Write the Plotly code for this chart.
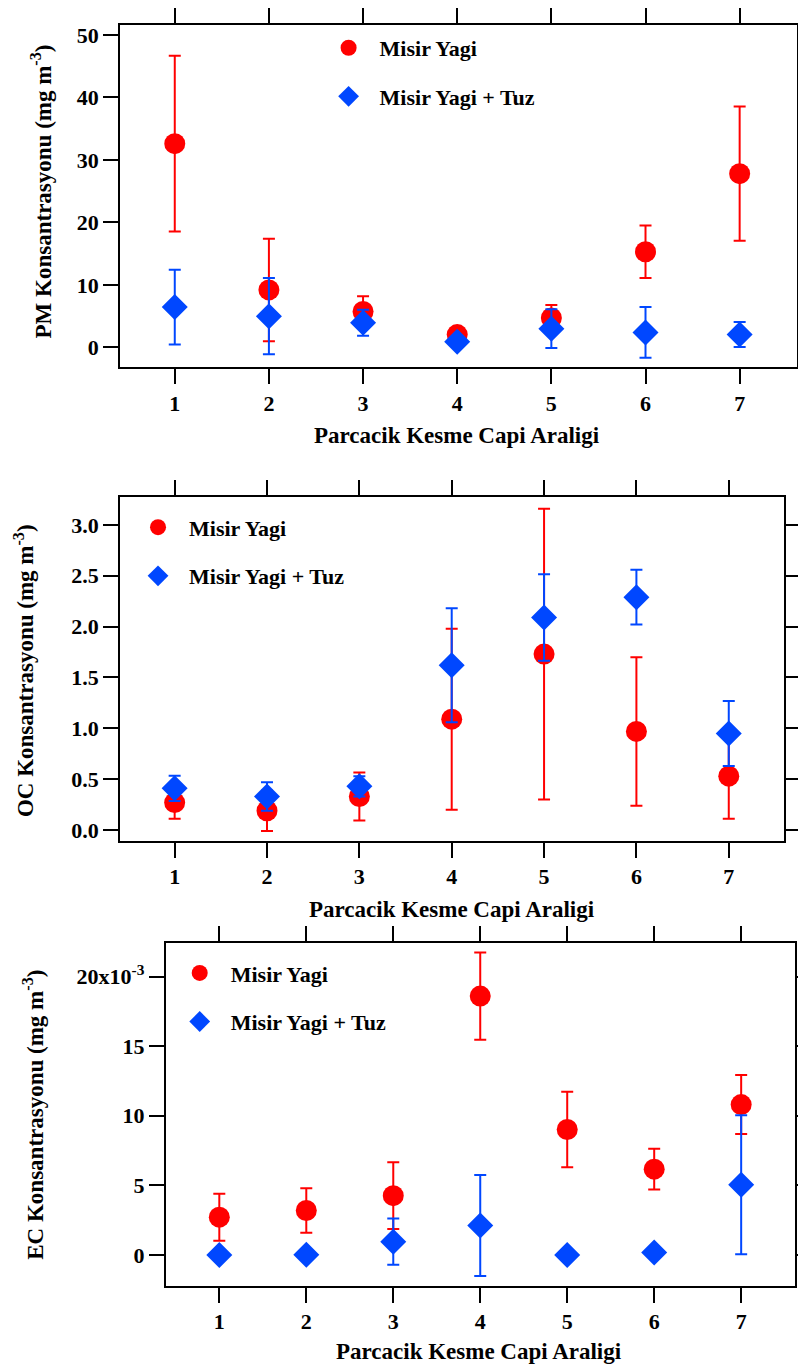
import plotly.graph_objects as go

W, H = 806, 1371
x_cats = [1, 2, 3, 4, 5, 6, 7]
x_ticktext = ["1", "2", "3", "4", "5", "6", "7"]
name_red = "Misir Yagi"
name_blue = "Misir Yagi + Tuz"
x_title = "Parcacik Kesme Capi Araligi"

# Panel 1: PM
pm_red = [32.6, 9.2, 5.75, 2.05, 4.7, 15.3, 27.8]
pm_red_err = [14.05, 8.2, 2.43, 0.5, 2.1, 4.2, 10.75]
pm_blue = [6.45, 5.0, 3.96, 0.9, 3.0, 2.4, 2.06]
pm_blue_err = [5.98, 6.1, 2.08, 0.4, 3.1, 4.05, 2.0]
pm_yticks = [0, 10, 20, 30, 40, 50]
pm_yticktext = ["0", "10", "20", "30", "40", "50"]

# Panel 2: OC
oc_red = [0.27, 0.19, 0.33, 1.09, 1.73, 0.97, 0.53]
oc_red_err = [0.16, 0.20, 0.235, 0.89, 1.43, 0.73, 0.42]
oc_blue = [0.41, 0.33, 0.43, 1.62, 2.09, 2.29, 0.95]
oc_blue_err = [0.125, 0.14, 0.1, 0.56, 0.425, 0.27, 0.32]
oc_yticks = [0.0, 0.5, 1.0, 1.5, 2.0, 2.5, 3.0]
oc_yticktext = ["0.0", "0.5", "1.0", "1.5", "2.0", "2.5", "3.0"]

# Panel 3: EC (values in units of 10^-3 mg m^-3)
ec_red = [2.71, 3.19, 4.26, 18.6, 9.01, 6.16, 10.8]
ec_red_err = [1.69, 1.6, 2.4, 3.13, 2.71, 1.46, 2.12]
ec_blue = [0.0, 0.02, 0.95, 2.12, 0.0, 0.17, 5.04]
ec_blue_err = [0.0, 0.0, 1.66, 3.63, 0.0, 0.0, 5.0]
ec_yticks = [0, 5, 10, 15, 20]
ec_yticktext = ["0", "5", "10", "15", "20x10<sup>-3</sup>"]

RED = "#ff0000"
BLUE = "#0047ff"
FONT = "Liberation Serif"
OFF = 8  # page body margin


def Y(px):
    return 1 - (px - OFF) / H


def X(px):
    return (px - OFF) / W


panels = [
    dict(key="", data=(pm_red, pm_red_err, pm_blue, pm_blue_err),
         xdom=[X(121), X(803)], ydom=[Y(362), Y(17)],
         xr=[0.42, 7.61], yr=[-3.2, 51.6], yt=(pm_yticks, pm_yticktext),
         ytitle="PM Konsantrasyonu (mg m<sup>-3</sup>)",
         ytpos=(42, 185), xtpos=(460, 431), leg=(345, 40)),
    dict(key="2", data=(oc_red, oc_red_err, oc_blue, oc_blue_err),
         xdom=[X(121), X(790)], ydom=[Y(839), Y(493)],
         xr=[0.41, 7.6], yr=[-0.107, 3.27], yt=(oc_yticks, oc_yticktext),
         ytitle="OC Konsantrasyonu (mg m<sup>-3</sup>)",
         ytpos=(24, 667), xtpos=(455, 908), leg=(153, 523)),
    dict(key="3", data=(ec_red, ec_red_err, ec_blue, ec_blue_err),
         xdom=[X(167), X(801)], ydom=[Y(1287), Y(942)],
         xr=[0.385, 7.62], yr=[-2.21, 22.4], yt=(ec_yticks, ec_yticktext),
         ytitle="EC Konsantrasyonu (mg m<sup>-3</sup>)",
         ytpos=(34, 1115), xtpos=(483, 1353), leg=(195, 972)),
]

fig = go.Figure()
annotations = []
layout = dict(
    width=W, height=H, margin=dict(l=0, r=0, t=0, b=0),
    paper_bgcolor="white", plot_bgcolor="white",
    font=dict(family=FONT, size=22, color="black", weight="bold"),
)

tickfont = dict(family=FONT, size=22, color="black", weight="bold")
titlefont = dict(family=FONT, size=23, color="black", weight="bold")

for p in panels:
    k = p["key"]
    red, rerr, blue, berr = p["data"]
    legname = "legend" + k
    xa = "x" + k
    ya = "y" + k
    fig.add_trace(go.Scatter(
        x=x_cats, y=red, mode="markers", name="\u2002" + name_red,
        xaxis=xa, yaxis=ya, legend=legname, legendgroup="r" + k,
        marker=dict(symbol="circle", size=21, color=RED),
        error_y=dict(type="data", array=rerr, visible=True, color=RED,
                     thickness=2, width=6),
    ))
    fig.add_trace(go.Scatter(
        x=x_cats, y=blue, mode="markers", name="\u2002" + name_blue,
        xaxis=xa, yaxis=ya, legend=legname, legendgroup="b" + k,
        marker=dict(symbol="diamond", size=20, color=BLUE),
        error_y=dict(type="data", array=berr, visible=True, color=BLUE,
                     thickness=2, width=6),
    ))
    layout["xaxis" + k] = dict(
        domain=p["xdom"], anchor=ya, range=p["xr"],
        tickmode="array", tickvals=x_cats, ticktext=x_ticktext,
        showline=True, linecolor="black", linewidth=2, mirror="ticks",
        ticks="outside", ticklen=15, tickwidth=2, tickcolor="black",
        showgrid=False, zeroline=False, tickfont=tickfont,
    )
    layout["yaxis" + k] = dict(
        domain=p["ydom"], anchor=xa, range=p["yr"],
        tickmode="array", tickvals=p["yt"][0], ticktext=p["yt"][1],
        showline=True, linecolor="black", linewidth=2, mirror="ticks",
        ticks="outside", ticklen=15, tickwidth=2, tickcolor="black",
        showgrid=False, zeroline=False, tickfont=tickfont,
    )
    layout[legname] = dict(
        x=X(p["leg"][0] - 14), y=Y(p["leg"][1] - 21),
        xanchor="left", yanchor="top", bgcolor="rgba(0,0,0,0)",
        font=dict(family=FONT, size=22, color="black", weight="bold"),
        tracegroupgap=17, itemsizing="trace",
    )
    annotations.append(dict(
        text=p["ytitle"], x=X(p["ytpos"][0]), y=Y(p["ytpos"][1]),
        xref="paper", yref="paper", textangle=-90, showarrow=False,
        xanchor="center", yanchor="middle", font=titlefont,
    ))
    annotations.append(dict(
        text=x_title, x=X(p["xtpos"][0]), y=Y(p["xtpos"][1]),
        xref="paper", yref="paper", showarrow=False,
        xanchor="center", yanchor="middle", font=titlefont,
    ))

layout["annotations"] = annotations
layout["showlegend"] = True
fig.update_layout(**layout)
fig.write_html("out.html")
